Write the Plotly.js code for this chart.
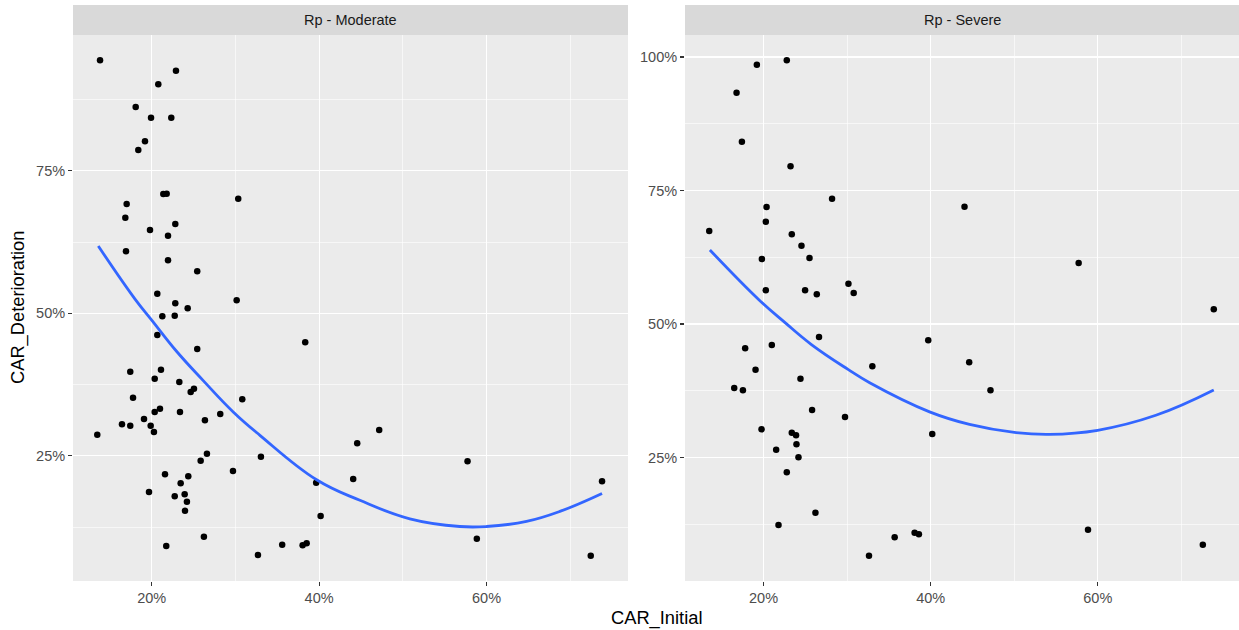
<!DOCTYPE html>
<html>
<head>
<meta charset="utf-8">
<script src="https://cdn.plot.ly/plotly-3.0.1.min.js"></script>
<style>html,body{margin:0;padding:0;background:#fff;}#chart{width:1239px;height:630px;}</style>
</head>
<body>
<div id="chart"></div>
<script>
// Panel labels
const panelNames = ["Rp - Moderate", "Rp - Severe"];
const xTitle = "CAR_Initial";
const yTitle = "CAR_Deterioration";

// Rp - Moderate points (CAR_Initial %, CAR_Deterioration %)
const modX = [13.83,22.90,20.79,18.09,19.92,22.34,19.20,18.40,21.39,21.79,30.34,17.01,16.85,22.82,19.80,21.95,16.93,21.95,25.44,20.67,
              30.15,22.82,24.30,21.27,22.75,20.67,25.44,17.44,21.11,20.36,23.30,24.66,25.05,30.82,17.77,20.99,20.36,23.38,19.08,16.45,
              17.44,19.88,28.19,26.36,20.27,13.50,26.60,25.85,33.05,29.71,21.59,24.37,23.46,19.68,22.75,23.94,24.21,23.98,26.24,21.74,
              32.69,38.34,47.18,44.55,57.73,44.07,39.65,40.18,73.80,35.59,38.03,38.51,58.84,72.45];
const modY = [94.39,92.56,90.18,86.19,84.32,84.32,80.18,78.65,70.93,70.98,70.11,69.18,66.77,65.67,64.61,63.61,60.88,59.30,57.37,53.44,
              52.28,51.75,50.88,49.47,49.58,46.19,43.74,39.75,40.11,38.53,37.95,36.19,36.77,34.91,35.19,33.26,32.68,32.68,31.46,30.53,
              30.28,30.28,32.33,31.23,29.18,28.70,25.37,24.14,24.84,22.33,21.75,21.40,20.18,18.65,17.89,18.25,16.95,15.37,10.81,9.18,
              7.60,44.91,29.53,27.19,24.04,20.93,20.28,14.44,20.53,9.40,9.30,9.65,10.46,7.47];

// Rp - Severe points
const sevX = [22.78,19.20,16.77,17.41,23.23,28.20,20.36,20.27,13.50,23.38,24.54,25.50,19.80,30.16,30.79,20.27,24.97,26.37,26.64,33.02,
              17.80,20.99,19.04,24.42,16.49,17.53,25.81,29.75,19.76,23.38,23.89,23.94,21.51,24.18,22.78,26.21,21.79,32.62,44.05,57.71,
              73.88,39.71,44.61,47.16,40.19,35.69,38.08,38.59,58.83,72.57];
const sevY = [99.38,98.56,93.31,84.14,79.53,73.46,71.91,69.16,67.42,66.80,64.66,62.36,62.17,57.55,55.81,56.31,56.31,55.56,47.57,42.08,
              45.45,46.07,41.44,39.76,38.01,37.58,33.90,32.58,30.28,29.64,29.16,27.47,26.46,25.04,22.23,14.66,12.36,6.61,71.97,61.42,
              52.75,46.95,42.83,37.58,29.40,10.06,10.92,10.62,11.48,8.67];

// Smooth trend curves
const modSmoothX = [13.62,18.01,20.0,22.99,26.16,29.74,32.93,39.70,44.87,50.84,56.81,60.0,64.78,68.76,73.8];
const modSmoothY = [61.81,52.50,48.82,43.30,38.20,32.70,28.60,20.80,17.20,13.95,12.60,12.60,13.50,15.25,18.40];
const sevSmoothX = [13.58,19.44,22.54,25.73,30.11,32.70,39.87,44.65,50.02,54.2,59.98,66.95,73.88];
const sevSmoothY = [63.86,54.55,50.30,46.15,41.50,39.00,33.55,31.20,29.70,29.34,30.10,32.90,37.64];

const W = 1239, H = 630;
const px = v => v / W;
const py = v => 1 - v / H;

const pointStyle = {color: '#000000', size: 6.5, line: {width: 0}};
const lineStyle = {color: '#3366FF', width: 2.8, shape: 'spline', smoothing: 1.2};

const traces = [
  {x: modX, y: modY, type: 'scatter', mode: 'markers', marker: pointStyle, xaxis: 'x', yaxis: 'y', showlegend: false},
  {x: modSmoothX, y: modSmoothY, type: 'scatter', mode: 'lines', line: lineStyle, xaxis: 'x', yaxis: 'y', showlegend: false},
  {x: sevX, y: sevY, type: 'scatter', mode: 'markers', marker: pointStyle, xaxis: 'x2', yaxis: 'y2', showlegend: false},
  {x: sevSmoothX, y: sevSmoothY, type: 'scatter', mode: 'lines', line: lineStyle, xaxis: 'x2', yaxis: 'y2', showlegend: false}
];

const tickFont = {family: 'Liberation Sans, Arial, sans-serif', size: 14.5, color: '#4D4D4D'};

function xAxis(d0, d1, anchor) {
  return {
    domain: [d0, d1], anchor: anchor, range: [10.6, 76.9],
    tick0: 0, dtick: 20, ticksuffix: '%', ticks: 'outside', ticklen: 4, tickwidth: 1.1, tickcolor: '#333333',
    tickfont: tickFont, showgrid: true, gridcolor: '#FFFFFF', gridwidth: 1.2, zeroline: false, showline: false,
    minor: {tick0: 0, dtick: 10, showgrid: true, gridcolor: '#FFFFFF', gridwidth: 0.6, ticks: ''},
    fixedrange: true
  };
}
function yAxis(range, anchor) {
  return {
    domain: [py(581), py(35)], anchor: anchor, range: range,
    tick0: 0, dtick: 25, ticksuffix: '%', ticks: 'outside', ticklen: 4, tickwidth: 1.1, tickcolor: '#333333',
    tickfont: tickFont, showgrid: true, gridcolor: '#FFFFFF', gridwidth: 1.2, zeroline: false, showline: false,
    minor: {tick0: 0, dtick: 12.5, showgrid: true, gridcolor: '#FFFFFF', gridwidth: 0.6, ticks: ''},
    fixedrange: true
  };
}

const panels = [[73, 628], [685, 1239]];

const layout = {
  width: W, height: H,
  margin: {l: 0, r: 0, t: 0, b: 0},
  paper_bgcolor: '#FFFFFF',
  plot_bgcolor: '#EBEBEB',
  font: {family: 'Liberation Sans, Arial, sans-serif'},
  xaxis: xAxis(px(panels[0][0]), px(panels[0][1]), 'y'),
  yaxis: yAxis([3.04, 98.83], 'x'),
  xaxis2: xAxis(px(panels[1][0]), px(panels[1][1]), 'y2'),
  yaxis2: yAxis([1.87, 104.12], 'x2'),
  shapes: panels.map(p => ({
    type: 'rect', xref: 'paper', yref: 'paper',
    x0: px(p[0]), x1: px(p[1]), y0: py(35), y1: py(5),
    fillcolor: '#D9D9D9', line: {width: 0}, layer: 'below'
  })),
  annotations: panels.map((p, i) => ({
    xref: 'paper', yref: 'paper', x: px((p[0] + p[1]) / 2), y: py(20),
    text: panelNames[i], showarrow: false, xanchor: 'center', yanchor: 'middle',
    font: {family: 'Liberation Sans, Arial, sans-serif', size: 14.5, color: '#1A1A1A'}
  })).concat([
    {xref: 'paper', yref: 'paper', x: px(656), y: py(618), text: xTitle, showarrow: false,
     xanchor: 'center', yanchor: 'middle', font: {family: 'Liberation Sans, Arial, sans-serif', size: 18.3, color: '#000000'}},
    {xref: 'paper', yref: 'paper', x: px(18), y: py(308), text: yTitle, showarrow: false, textangle: -90,
     xanchor: 'center', yanchor: 'middle', font: {family: 'Liberation Sans, Arial, sans-serif', size: 18.3, color: '#000000'}}
  ]),
  hovermode: false
};

Plotly.newPlot('chart', traces, layout, {staticPlot: true, displayModeBar: false});
</script>
</body>
</html>
